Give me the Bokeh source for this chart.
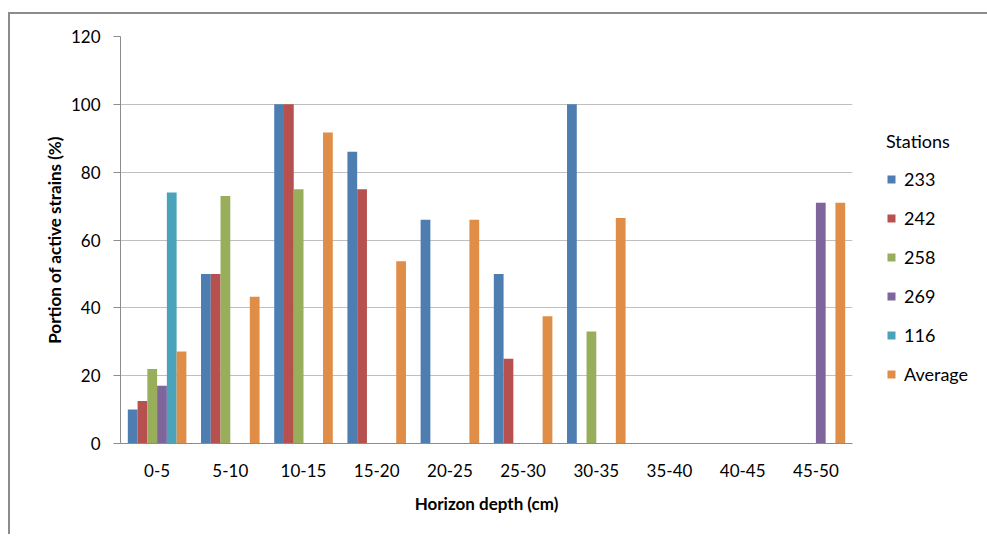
from bokeh.plotting import figure
from bokeh.models import (FactorRange, Range1d, FixedTicker, Legend, LegendItem,
                          ColumnDataSource)
from bokeh.transform import dodge
from bokeh.embed import file_html
from bokeh.resources import INLINE

# ---- data ----
depths = ["0-5", "5-10", "10-15", "15-20", "20-25", "25-30", "30-35", "35-40", "40-45", "45-50"]
s233 = [10, 50, 100, 86, 66, 50, 100, 0, 0, 0]
s242 = [12.5, 50, 100, 75, 0, 25, 0, 0, 0, 0]
s258 = [22, 73, 75, 0, 0, 0, 33, 0, 0, 0]
s269 = [17, 0, 0, 0, 0, 0, 0, 0, 0, 71]
s116 = [74, 0, 0, 0, 0, 0, 0, 0, 0, 0]
average = [27.1, 43.25, 91.7, 53.7, 66, 37.5, 66.5, 0, 0, 71]
series_names = ["233", "242", "258", "269", "116", "Average"]
y_ticks = [0, 20, 40, 60, 80, 100, 120]

colors = ["#4E7DB1", "#B6514F", "#98AE5B", "#7E659B", "#4AA3BB", "#E08D47"]
FONT = "Lato"

source = ColumnDataSource(dict(depth=depths, s233=s233, s242=s242, s258=s258,
                               s269=s269, s116=s116, average=average))
cols = ["s233", "s242", "s258", "s269", "s116", "average"]

p = figure(x_range=FactorRange(factors=depths), y_range=Range1d(0, 120),
           frame_width=732, frame_height=407, output_backend="svg", toolbar_location=None,
           min_border_left=110, min_border_right=133, min_border_top=22,
           min_border_bottom=91)
p.styles = {"border-top": "2px solid #8c8c8c", "border-left": "2px solid #8c8c8c",
            "margin-left": "8px", "margin-top": "12px"}
p.outline_line_color = None
p.background_fill_color = "white"
p.border_fill_color = "white"

bw = 1 / 7.5
renderers = []
for i, (c, col) in enumerate(zip(cols, colors)):
    off = (i - 2.5) * bw
    r = p.vbar(x=dodge("depth", off, range=p.x_range), top=c, width=bw,
               source=source, fill_color=col, line_color=None)
    renderers.append(r)

# axes
p.yaxis.ticker = FixedTicker(ticks=y_ticks)
p.yaxis.minor_tick_line_color = None
p.yaxis.major_tick_out = 7
p.yaxis.major_tick_in = 0
p.yaxis.major_tick_line_color = "#8c8c8c"
p.yaxis.axis_line_color = "#8c8c8c"
p.yaxis.major_label_standoff = 13
p.yaxis.major_label_text_font = FONT
p.yaxis.major_label_text_font_size = "17px"
p.yaxis.major_label_text_color = "#000000"
p.yaxis.axis_label = "Portion of active strains (%)"
p.yaxis.axis_label_text_font = FONT
p.yaxis.axis_label_text_font_size = "17px"
p.yaxis.axis_label_text_font_style = "bold"
p.yaxis.axis_label_text_color = "#000000"
p.yaxis.axis_label_standoff = 3

p.xaxis.major_tick_line_color = None
p.xaxis.axis_line_color = "#8c8c8c"
p.xaxis.major_label_standoff = 14
p.xaxis.major_label_text_font = FONT
p.xaxis.major_label_text_font_size = "17px"
p.xaxis.major_label_text_color = "#000000"
p.xaxis.axis_label = "Horizon depth (cm)"
p.xaxis.axis_label_text_font = FONT
p.xaxis.axis_label_text_font_size = "17px"
p.xaxis.axis_label_text_font_style = "bold"
p.xaxis.axis_label_text_color = "#000000"
p.xaxis.axis_label_standoff = 13

p.xgrid.grid_line_color = None
p.ygrid.grid_line_color = "#BFBFBF"
p.ygrid.ticker = FixedTicker(ticks=y_ticks)

legend = Legend(items=[LegendItem(label=n, renderers=[r]) for n, r in zip(series_names, renderers)],
                location=(34, 58), title="Stations")
legend.title_text_font = FONT
legend.title_text_font_size = "18px"
legend.title_text_font_style = "normal"
legend.title_text_color = "#000000"
legend.title_standoff = 16
legend.label_text_font = FONT
legend.label_text_font_size = "18px"
legend.label_text_color = "#000000"
legend.glyph_width = 10
legend.glyph_height = 10
legend.label_height = 22
legend.spacing = 17
legend.label_standoff = 8
legend.padding = 0
legend.margin = 0
legend.border_line_color = None
legend.background_fill_alpha = 0
p.add_layout(legend, "right")

open("out.html", "w").write(file_html(p, INLINE))
